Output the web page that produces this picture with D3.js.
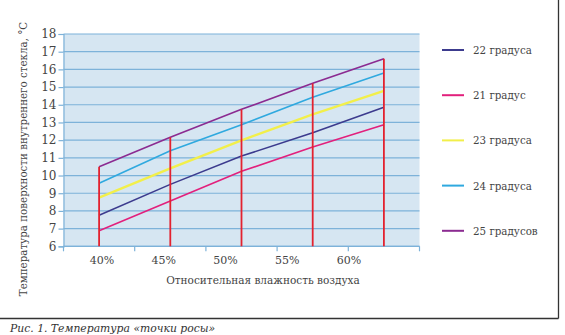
<!DOCTYPE html>
<html><head><meta charset="utf-8">
<script src="https://cdn.jsdelivr.net/npm/d3@7"></script>
<style>html,body{margin:0;padding:0;background:#fff;} svg{display:block;}</style>
</head><body>
<svg id="c" width="565" height="335"></svg>
<script>
const categories = ["40%","45%","50%","55%","60%"];
const humidityLabels = [40, 45, 50, 55, 60];
const yTicks = [6,7,8,9,10,11,12,13,14,15,16,17,18];
const seriesNames = ["22 градуса","21 градус","23 градуса","24 градуса","25 градусов"];
const s22 = [7.75, 9.5, 11.1, 12.42, 13.86];
const s21 = [6.88, 8.56, 10.24, 11.61, 12.87];
const s23 = [8.75, 10.41, 11.99, 13.46, 14.78];
const s24 = [9.56, 11.4, 12.87, 14.42, 15.8];
const s25 = [10.5, 12.16, 13.74, 15.21, 16.6];
const seriesValues = [s22, s21, s23, s24, s25];
const seriesColors = ["#3c3b8e", "#e2207c", "#f2ef4a", "#2fa9df", "#8b2b91"];
const seriesWidths = [1.6, 1.6, 2.4, 1.6, 1.6];

const svg = d3.select("#c");
const font = "DejaVu Serif";
const L = 63.5, R = 419.5, T = 34, B = 246.3;

const x = d3.scaleBand().domain(d3.range(categories.length)).range([L, R]).padding(0);
const xLab = d3.scaleLinear().domain([40, 60]).range([102, 349]);
const y = d3.scaleLinear().domain([6, 18]).range([B, T]);

// background
svg.append("rect").attr("x", L).attr("y", T).attr("width", R - L).attr("height", B - T).attr("fill", "#d6e6f2");

// grid
svg.append("g").selectAll("line").data(yTicks).join("line")
  .attr("x1", L).attr("x2", R).attr("y1", d => y(d)).attr("y2", d => y(d))
  .attr("stroke", "#7db2d9").attr("stroke-width", 1.2);

// left axis
const ya = svg.append("g").attr("transform", `translate(${L},0)`)
  .call(d3.axisLeft(y).tickValues(yTicks).tickSize(5).tickPadding(2).tickFormat(d3.format("d")));
ya.select(".domain").attr("stroke", "#7db2d9").attr("stroke-width", 1.2);
ya.selectAll(".tick line").attr("stroke", "#7db2d9").attr("stroke-width", 1.2);
ya.selectAll("text").attr("font-family", font).attr("font-size", 12).attr("fill", "#444");

// bottom ticks at band boundaries
const bounds = d3.range(categories.length + 1).map(i => i < categories.length ? x(i) : x(categories.length - 1) + x.bandwidth());
svg.append("g").selectAll("line").data(bounds).join("line")
  .attr("x1", d => d).attr("x2", d => d).attr("y1", B).attr("y2", B + 5)
  .attr("stroke", "#7db2d9").attr("stroke-width", 1.2);
svg.append("line").attr("x1", L).attr("x2", R).attr("y1", B).attr("y2", B)
  .attr("stroke", "#7db2d9").attr("stroke-width", 1.2);

// x labels
svg.append("g").selectAll("text").data(humidityLabels).join("text")
  .attr("x", d => xLab(d)).attr("y", 264).attr("text-anchor", "middle")
  .attr("font-family", font).attr("font-size", 11).attr("fill", "#444")
  .text((d, i) => categories[i]);

const cx = i => x(i) + x.bandwidth() / 2;

// series lines
const line = d3.line().x((d, i) => cx(i)).y(d => y(d));
seriesValues.forEach((vals, k) => {
  svg.append("path").datum(vals).attr("d", line).attr("fill", "none")
    .attr("stroke", seriesColors[k]).attr("stroke-width", seriesWidths[k]);
});

// red verticals
svg.append("g").selectAll("line").data(s25).join("line")
  .attr("x1", (d, i) => cx(i)).attr("x2", (d, i) => cx(i))
  .attr("y1", y(6)).attr("y2", d => y(d))
  .attr("stroke", "#e3222f").attr("stroke-width", 1.8);

// axis titles
svg.append("text").attr("x", 263).attr("y", 284).attr("text-anchor", "middle")
  .attr("font-family", font).attr("font-size", 10.5).attr("fill", "#444")
  .text("Относительная влажность воздуха");
svg.append("text").attr("transform", "translate(27,159) rotate(-90)").attr("text-anchor", "middle")
  .attr("font-family", font).attr("font-size", 10.3).attr("fill", "#444")
  .text("Температура поверхности внутреннего стекла, °C");

// legend
const lg = svg.append("g").selectAll("g").data(seriesNames).join("g")
  .attr("transform", (d, i) => `translate(0,${50 + i * 45.2})`);
lg.append("line").attr("x1", 442).attr("x2", 464).attr("y1", 0).attr("y2", 0)
  .attr("stroke", (d, i) => seriesColors[i]).attr("stroke-width", 2);
lg.append("text").attr("x", 473).attr("y", 4).attr("font-family", font).attr("font-size", 10.3)
  .attr("fill", "#444").text(d => d);

// frame
svg.append("line").attr("x1", 558.5).attr("x2", 558.5).attr("y1", 0).attr("y2", 318.5).attr("stroke", "#333").attr("stroke-width", 1.3);
svg.append("line").attr("x1", 0).attr("x2", 558.5).attr("y1", 318.5).attr("y2", 318.5).attr("stroke", "#333").attr("stroke-width", 1.3);

// caption
svg.append("text").attr("x", 10).attr("y", 332).attr("font-family", font).attr("font-style", "italic")
  .attr("font-size", 10.8).attr("fill", "#333").text("Рис. 1. Температура «точки росы»");
</script>
</body></html>
